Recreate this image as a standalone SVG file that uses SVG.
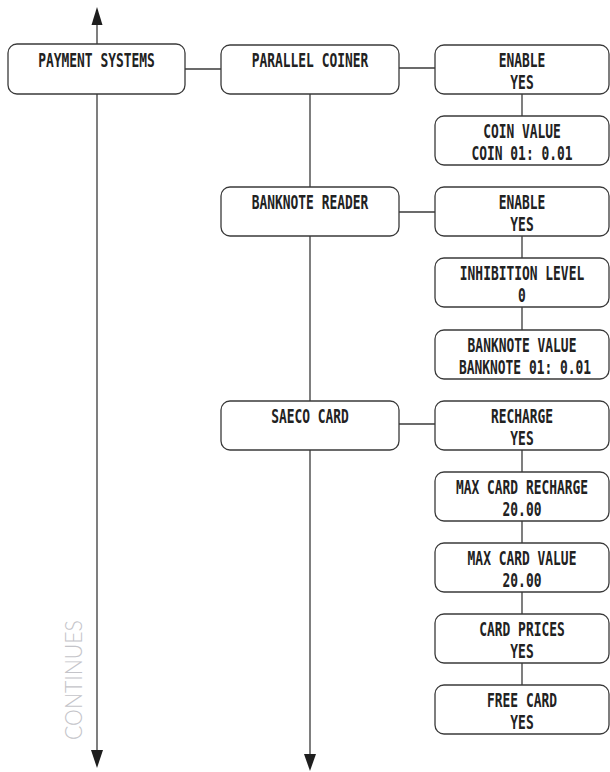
<svg xmlns="http://www.w3.org/2000/svg" width="610" height="772" viewBox="0 0 610 772">
<defs>
<style>
.box{fill:#fff;stroke:#3a3a3a;stroke-width:1.3}
.ln{stroke:#3a3a3a;stroke-width:1.3;fill:none}
.ah{fill:#1e1e1e;stroke:none}
.t{font-family:"DejaVu Sans Mono",monospace;font-weight:bold;font-size:19px;fill:#222;text-anchor:middle}
.cont{font-family:Lato,"Liberation Sans",sans-serif;font-weight:300;font-size:23px;fill:#c4c4c9}
</style>
</defs>
<rect width="610" height="772" fill="#fff"/>
<g id="connectors">
<line class="ln" x1="97" y1="20" x2="97" y2="752"/>
<polygon class="ah" points="97,7 91.5,25 102.5,25"/>
<polygon class="ah" points="97,768 91,750 103,750"/>
<line class="ln" x1="185" y1="69" x2="221" y2="69"/>
<line class="ln" x1="310" y1="94" x2="310" y2="187"/>
<line class="ln" x1="310" y1="236" x2="310" y2="401"/>
<line class="ln" x1="310" y1="450" x2="310" y2="757"/>
<polygon class="ah" points="310,771 304,754 316,754"/>
<line class="ln" x1="399" y1="68" x2="435" y2="68"/>
<line class="ln" x1="399" y1="212" x2="435" y2="212"/>
<line class="ln" x1="399" y1="424" x2="435" y2="424"/>
<line class="ln" x1="522" y1="94" x2="522" y2="116"/>
<line class="ln" x1="522" y1="236" x2="522" y2="258"/>
<line class="ln" x1="522" y1="307" x2="522" y2="330"/>
<line class="ln" x1="522" y1="450" x2="522" y2="472"/>
<line class="ln" x1="522" y1="521" x2="522" y2="543"/>
<line class="ln" x1="522" y1="592" x2="522" y2="614"/>
<line class="ln" x1="522" y1="663" x2="522" y2="685"/>
</g>
<g id="payment-systems"><rect class="box" x="8" y="44" width="177" height="50" rx="9"/><text class="t" transform="translate(96.5,67) scale(0.68,1)">PAYMENT SYSTEMS</text></g>
<g id="parallel-coiner"><rect class="box" x="221" y="45" width="178" height="49" rx="9"/><text class="t" transform="translate(310,67) scale(0.68,1)">PARALLEL COINER</text></g>
<g id="banknote-reader"><rect class="box" x="221" y="187" width="178" height="49" rx="9"/><text class="t" transform="translate(310,209) scale(0.68,1)">BANKNOTE READER</text></g>
<g id="saeco-card"><rect class="box" x="221" y="401" width="178" height="49" rx="9"/><text class="t" transform="translate(310,423) scale(0.68,1)">SAECO CARD</text></g>
<g id="pc-enable"><rect class="box" x="435" y="45" width="174" height="49" rx="9"/><text class="t" transform="translate(522,67) scale(0.68,1)">ENABLE</text><text class="t" transform="translate(522,89) scale(0.68,1)">YES</text></g>
<g id="coin-value"><rect class="box" x="435" y="116" width="174" height="49" rx="9"/><text class="t" transform="translate(522,138) scale(0.68,1)">COIN VALUE</text><text class="t" transform="translate(522,160) scale(0.68,1)">COIN 01: 0.01</text></g>
<g id="br-enable"><rect class="box" x="435" y="187" width="174" height="49" rx="9"/><text class="t" transform="translate(522,209) scale(0.68,1)">ENABLE</text><text class="t" transform="translate(522,231) scale(0.68,1)">YES</text></g>
<g id="inhibition-level"><rect class="box" x="435" y="258" width="174" height="49" rx="9"/><text class="t" transform="translate(522,280) scale(0.68,1)">INHIBITION LEVEL</text><text class="t" transform="translate(522,302) scale(0.68,1)">0</text></g>
<g id="banknote-value"><rect class="box" x="435" y="330" width="174" height="49" rx="9"/><text class="t" transform="translate(522,352) scale(0.68,1)">BANKNOTE VALUE</text><text class="t" transform="translate(525,374) scale(0.68,1)">BANKNOTE 01: 0.01</text></g>
<g id="recharge"><rect class="box" x="435" y="401" width="174" height="49" rx="9"/><text class="t" transform="translate(522,423) scale(0.68,1)">RECHARGE</text><text class="t" transform="translate(522,445) scale(0.68,1)">YES</text></g>
<g id="max-card-recharge"><rect class="box" x="435" y="472" width="174" height="49" rx="9"/><text class="t" transform="translate(522,494) scale(0.68,1)">MAX CARD RECHARGE</text><text class="t" transform="translate(522,516) scale(0.68,1)">20.00</text></g>
<g id="max-card-value"><rect class="box" x="435" y="543" width="174" height="49" rx="9"/><text class="t" transform="translate(522,565) scale(0.68,1)">MAX CARD VALUE</text><text class="t" transform="translate(522,587) scale(0.68,1)">20.00</text></g>
<g id="card-prices"><rect class="box" x="435" y="614" width="174" height="49" rx="9"/><text class="t" transform="translate(522,636) scale(0.68,1)">CARD PRICES</text><text class="t" transform="translate(522,658) scale(0.68,1)">YES</text></g>
<g id="free-card"><rect class="box" x="435" y="685" width="174" height="49" rx="9"/><text class="t" transform="translate(522,707) scale(0.68,1)">FREE CARD</text><text class="t" transform="translate(522,729) scale(0.68,1)">YES</text></g>
<text class="cont" transform="translate(82,740) rotate(-90)" textLength="120" lengthAdjust="spacingAndGlyphs">CONTINUES</text>
</svg>
